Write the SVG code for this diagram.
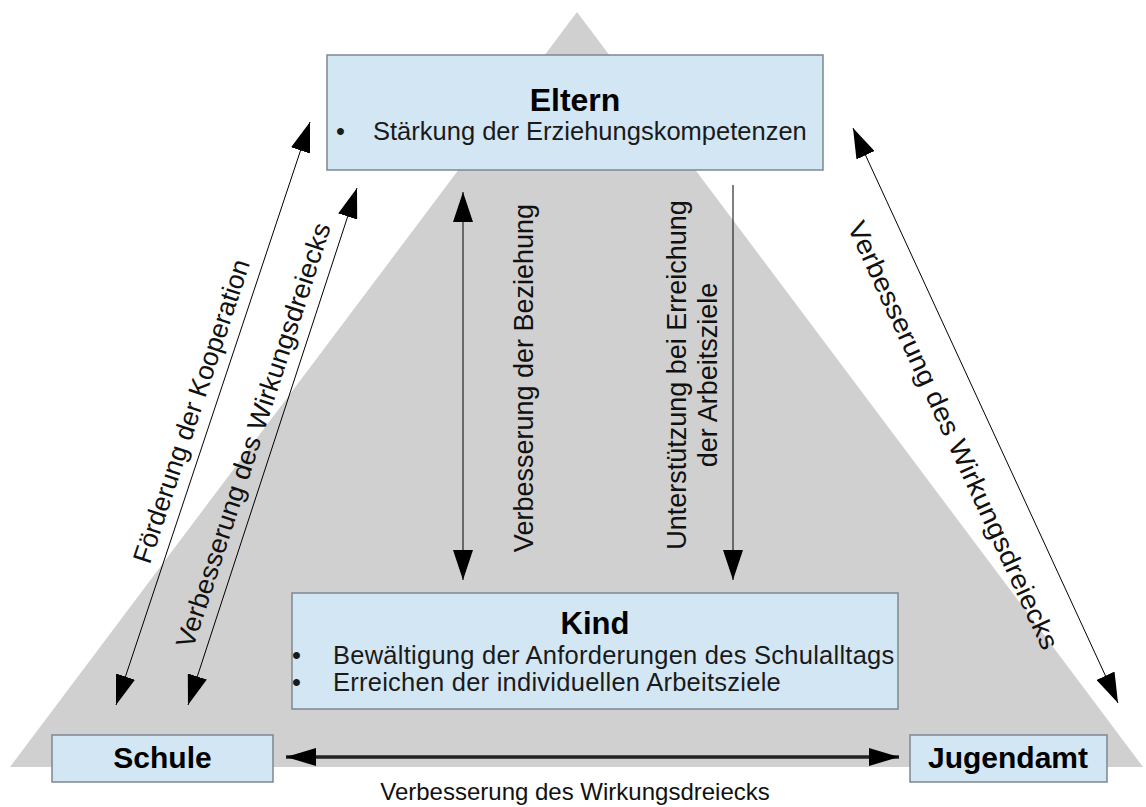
<svg xmlns="http://www.w3.org/2000/svg" width="1146" height="807" viewBox="0 0 1146 807">
<style>
.box{fill:#d2e6f4;stroke:#7d8791;stroke-width:1.5}
.title{font-family:"Liberation Sans",Arial,sans-serif;font-weight:bold;fill:#000;text-anchor:middle}
.txt{font-family:"Liberation Sans",Arial,sans-serif;fill:#1a1a1a}
.lbl{font-family:"Liberation Sans",Arial,sans-serif;fill:#111;text-anchor:middle}
.conn{stroke:#000;stroke-width:1;fill:none}
.thick{stroke:#222;stroke-width:3.5;fill:none}
</style>
<defs>
<marker id="ah" markerUnits="userSpaceOnUse" viewBox="0 0 30 20" markerWidth="30" markerHeight="20" refX="30" refY="10" orient="auto-start-reverse"><path d="M0,0 L30,10 L0,20 z" fill="#000"/></marker>
<marker id="ahb" markerUnits="userSpaceOnUse" viewBox="0 0 30 18" markerWidth="30" markerHeight="18" refX="30" refY="9" orient="auto-start-reverse"><path d="M0,0 L30,9 L0,18 z" fill="#000"/></marker>
</defs>
<rect x="0" y="0" width="1146" height="807" fill="#fff"/>
<polygon id="triangle" points="577,12 10,767 1143,767" fill="#d0d0d0"/>

<g id="connectors">
<line class="conn" x1="116" y1="705" x2="310" y2="122" marker-start="url(#ah)" marker-end="url(#ah)"/>
<line class="conn" x1="188" y1="705" x2="357" y2="188" marker-start="url(#ah)" marker-end="url(#ah)"/>
<line class="conn" x1="463" y1="192" x2="463" y2="580" marker-start="url(#ah)" marker-end="url(#ah)"/>
<line class="conn" x1="733" y1="185" x2="733" y2="580" marker-end="url(#ah)"/>
<line class="conn" x1="853" y1="128" x2="1118" y2="703" marker-start="url(#ah)" marker-end="url(#ah)"/>
<line class="thick" x1="286" y1="757" x2="899" y2="757" marker-start="url(#ahb)" marker-end="url(#ahb)"/>
<text class="lbl" font-size="26.5" x="200" y="414" transform="rotate(-71.6 200 414)">Förderung der Kooperation</text>
<text class="lbl" font-size="26.5" x="262" y="438" textLength="445" lengthAdjust="spacingAndGlyphs" transform="rotate(-71.9 262 438)">Verbesserung des Wirkungsdreiecks</text>
<text class="lbl" font-size="27" x="533" y="378" transform="rotate(-90 533 378)">Verbesserung der Beziehung</text>
<text class="lbl" font-size="27" x="686" y="375" transform="rotate(-90 686 375)">Unterstützung bei Erreichung</text>
<text class="lbl" font-size="27" x="717" y="375" transform="rotate(-90 717 375)">der Arbeitsziele</text>
<text class="lbl" font-size="26.5" x="945" y="439" textLength="468" lengthAdjust="spacingAndGlyphs" transform="rotate(65.25 945 439)">Verbesserung des Wirkungsdreiecks</text>
<text class="lbl" font-size="24" x="575" y="800">Verbesserung des Wirkungsdreiecks</text>
</g>

<g id="eltern">
<rect class="box" x="327" y="55" width="496" height="115"/>
<text class="title" font-size="32" x="575" y="111">Eltern</text>
<text class="txt" font-size="25.5" x="336" y="140">•</text>
<text class="txt" font-size="25.5" x="373" y="140">Stärkung der Erziehungskompetenzen</text>
</g>

<g id="kind">
<rect class="box" x="292" y="593" width="606" height="116"/>
<text class="title" font-size="31" x="595" y="634">Kind</text>
<text class="txt" font-size="25.5"><tspan x="292" y="664">•</tspan><tspan x="292" y="691">•</tspan></text>
<text class="txt" font-size="25.5" letter-spacing="0.25"><tspan x="333" y="664">Bewältigung der Anforderungen des Schulalltags</tspan><tspan x="333" y="691">Erreichen der individuellen Arbeitsziele</tspan></text>
</g>

<g id="schule">
<rect class="box" x="52" y="735" width="221" height="47"/>
<text class="title" font-size="30" x="162.5" y="768">Schule</text>
</g>

<g id="jugendamt">
<rect class="box" x="910" y="735" width="197" height="47"/>
<text class="title" font-size="30" x="1008" y="768">Jugendamt</text>
</g>
</svg>
